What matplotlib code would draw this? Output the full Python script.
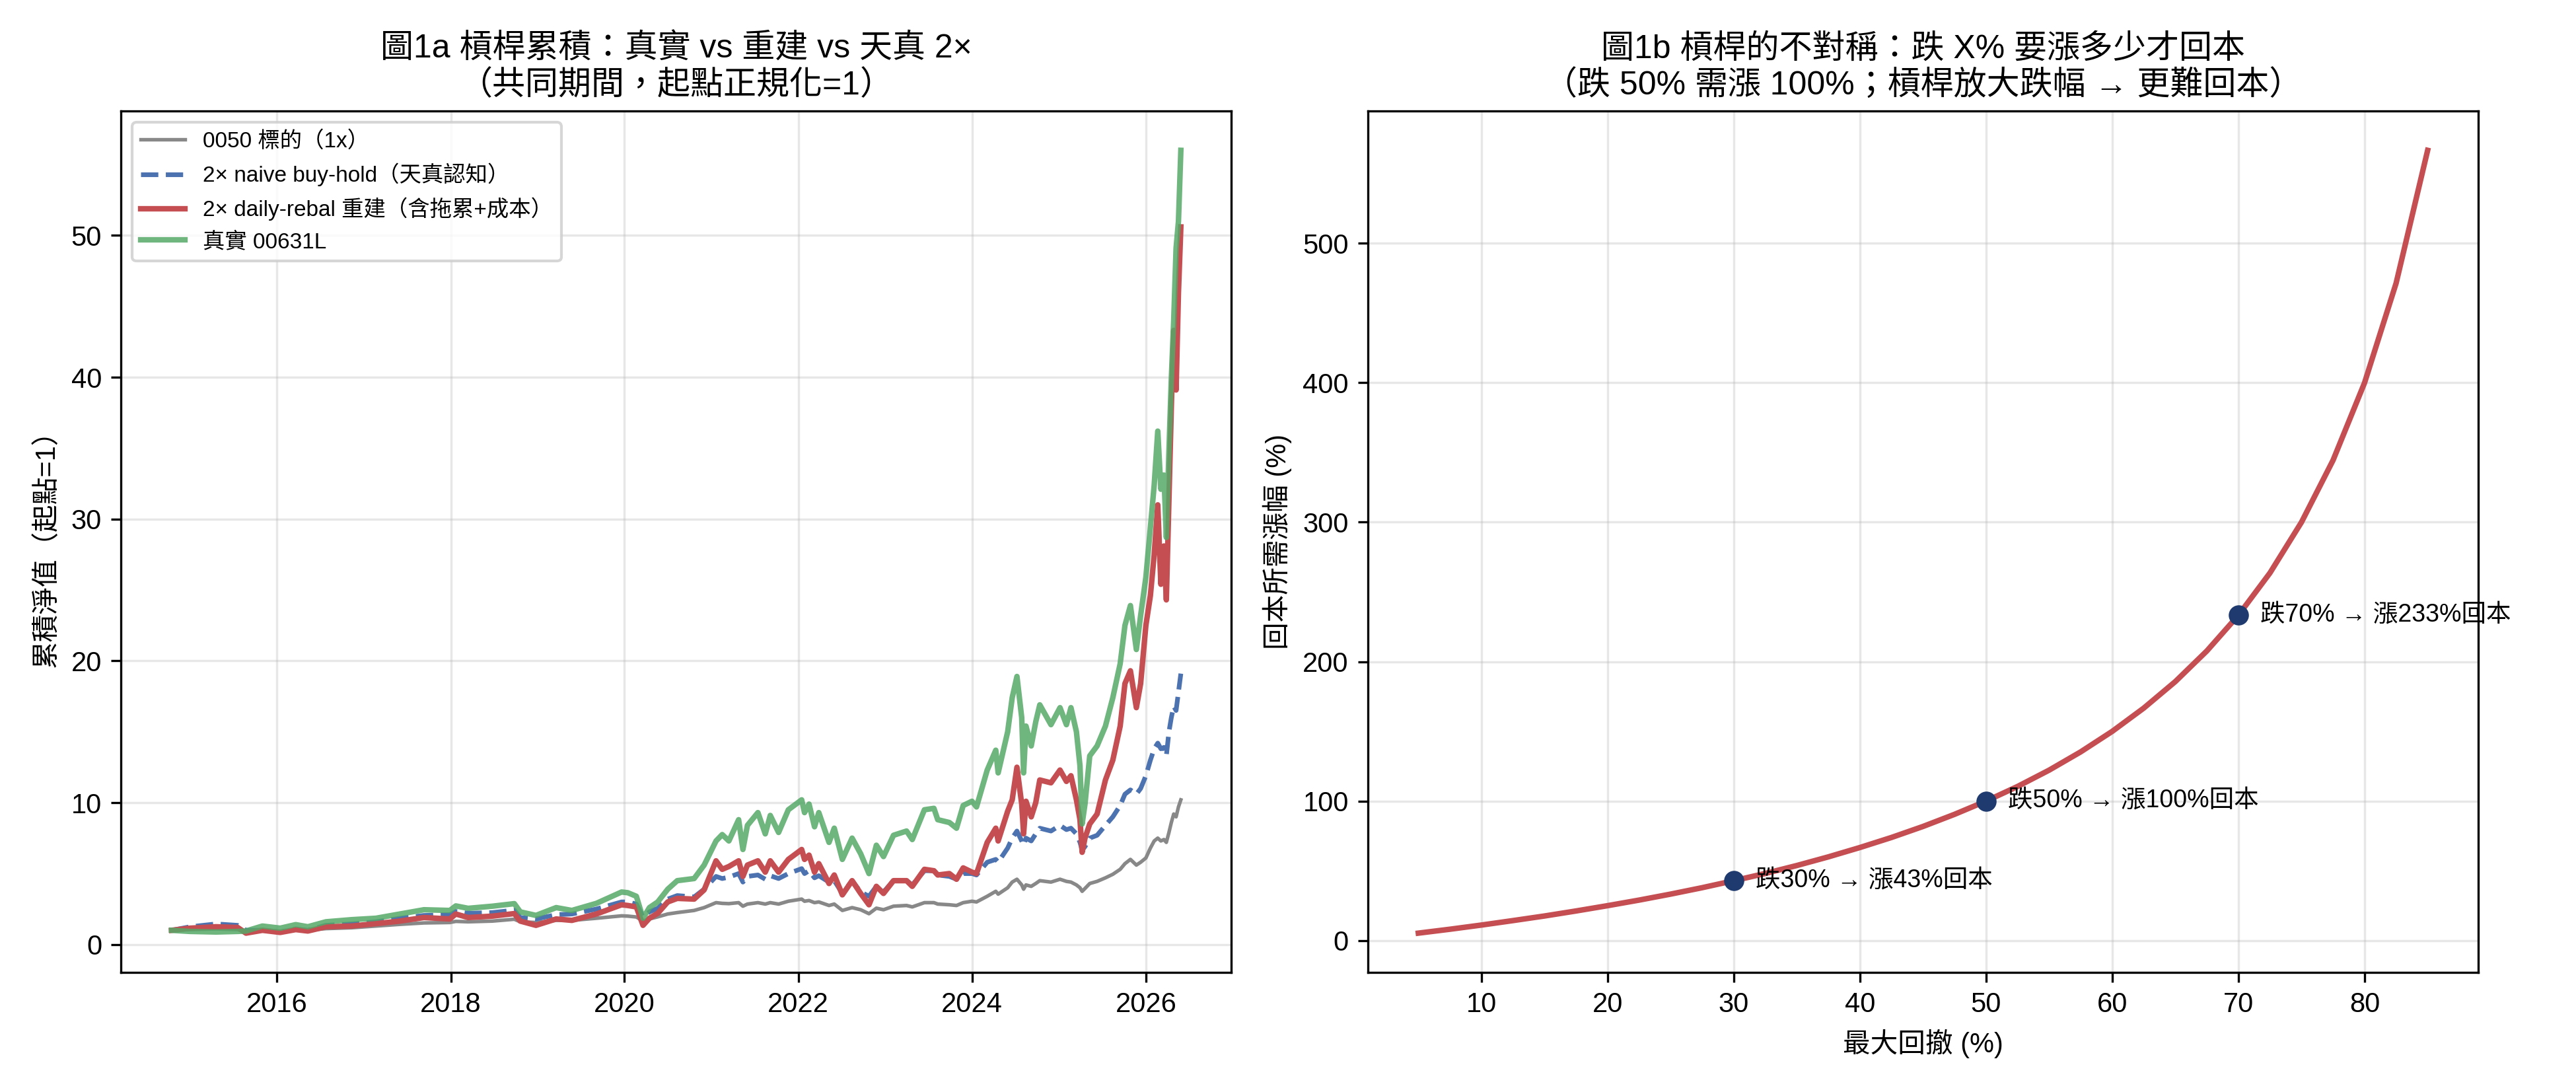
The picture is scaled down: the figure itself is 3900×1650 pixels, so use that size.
import numpy as np
import pandas as pd
from matplotlib import pyplot as plt

plt.rcParams['font.family'] = ['Liberation Sans', 'Noto Sans CJK TC', 'DejaVu Sans']

# ---- Fig 1a: cumulative NAV ----
dates = [
    "2014-10-15", "2015-01-01", "2015-04-20", "2015-07-20", "2015-08-24", "2015-11-01",
    "2016-01-15", "2016-03-20", "2016-05-10", "2016-07-25", "2016-11-10", "2017-02-20",
    "2017-06-01", "2017-09-10", "2017-12-28", "2018-01-22", "2018-03-15", "2018-06-25",
    "2018-09-25", "2018-10-20", "2018-12-25", "2019-03-20", "2019-05-25", "2019-09-05",
    "2019-12-20", "2020-01-15", "2020-02-20", "2020-03-19", "2020-04-15", "2020-05-20",
    "2020-07-01", "2020-08-10", "2020-10-20", "2020-12-01", "2021-01-20", "2021-02-15",
    "2021-03-15", "2021-04-25", "2021-05-13", "2021-06-01", "2021-07-15", "2021-08-15",
    "2021-09-05", "2021-10-10", "2021-11-20", "2022-01-15", "2022-01-27", "2022-02-15",
    "2022-03-10", "2022-03-28", "2022-05-10", "2022-06-01", "2022-07-05", "2022-08-15",
    "2022-09-20", "2022-10-25", "2022-11-25", "2022-12-25", "2023-02-05", "2023-04-01",
    "2023-04-25", "2023-06-15", "2023-07-25", "2023-08-10", "2023-09-28", "2023-10-28",
    "2023-11-25", "2024-01-01", "2024-01-20", "2024-03-05", "2024-04-10", "2024-04-20",
    "2024-05-30", "2024-06-18", "2024-07-08", "2024-07-28", "2024-08-05", "2024-08-15",
    "2024-09-06", "2024-09-25", "2024-10-12", "2024-11-28", "2025-01-05", "2025-02-01",
    "2025-02-20", "2025-03-15", "2025-03-30", "2025-04-08", "2025-04-20", "2025-05-10",
    "2025-06-10", "2025-07-15", "2025-08-15", "2025-09-15", "2025-10-05", "2025-10-28",
    "2025-11-22", "2025-12-10", "2026-01-01", "2026-01-20", "2026-02-05", "2026-02-20",
    "2026-03-05", "2026-03-18", "2026-03-28", "2026-04-08", "2026-04-18", "2026-04-28",
    "2026-05-08", "2026-05-18", "2026-05-28",
]

nav_0050 = [
    1.0, 1.05, 1.1, 1.05, 0.9, 0.98,
    0.93, 1.02, 1.0, 1.12, 1.18, 1.3,
    1.42, 1.52, 1.55, 1.63, 1.6, 1.65,
    1.78, 1.6, 1.55, 1.7, 1.7, 1.85,
    2.02, 2.0, 1.94, 1.65, 1.8, 1.95,
    2.15, 2.25, 2.4, 2.6, 2.95, 2.9,
    2.88, 2.95, 2.7, 2.85, 2.95, 2.85,
    2.95, 2.85, 3.05, 3.2, 3.05, 3.1,
    2.95, 3.0, 2.75, 2.85, 2.4, 2.6,
    2.45, 2.17, 2.56, 2.45, 2.7, 2.75,
    2.65, 2.95, 2.95, 2.85, 2.8, 2.75,
    2.95, 3.05, 3.0, 3.4, 3.75, 3.55,
    4.0, 4.4, 4.6, 4.2, 3.9, 4.2,
    4.1, 4.3, 4.5, 4.4, 4.6, 4.45,
    4.4, 4.2, 4.0, 3.75, 3.95, 4.3,
    4.45, 4.7, 4.95, 5.3, 5.7, 6.0,
    5.6, 5.8, 6.1, 6.8, 7.3, 7.5,
    7.3, 7.4, 7.2, 7.9, 8.6, 9.2,
    9.0, 9.7, 10.2,
]

nav_naive = [
    1.0, 1.25, 1.45, 1.35, 1.0, 1.0,
    0.88, 1.1, 1.0, 1.35, 1.45, 1.6,
    1.85, 2.05, 2.1, 2.33, 2.2, 2.25,
    2.42, 1.9, 1.8, 2.1, 2.15, 2.5,
    3.0, 3.0, 2.85, 1.95, 2.3, 2.55,
    3.2, 3.45, 3.35, 3.9, 4.8, 4.65,
    4.75, 5.0, 4.4, 4.8, 4.9, 4.6,
    4.85, 4.65, 5.0, 5.35, 5.0, 5.2,
    4.7, 4.85, 4.4, 4.5, 3.6, 4.5,
    3.7, 3.4, 4.1, 3.7, 4.5, 4.5,
    4.2, 5.2, 5.2, 4.9, 4.8, 4.6,
    5.0, 5.0, 4.9, 5.8, 6.0, 5.8,
    6.8, 7.5, 8.0, 7.3, 7.0, 7.5,
    7.3, 7.8, 8.2, 8.0, 8.4, 8.1,
    8.2, 7.8, 7.2, 6.65, 6.9, 7.5,
    7.7, 8.4, 9.0, 9.8, 10.6, 10.9,
    10.6, 11.0, 11.9, 13.0, 13.8, 14.2,
    13.8, 13.9, 13.3, 15.0, 16.0, 16.8,
    16.5, 17.8, 19.1,
]

nav_rebal = [
    1.0, 1.15, 1.25, 1.2, 0.8, 1.0,
    0.85, 1.05, 0.95, 1.25, 1.3, 1.47,
    1.65, 1.9, 1.8, 2.15, 1.9, 2.0,
    2.18, 1.65, 1.35, 1.8, 1.7, 2.15,
    2.8, 2.75, 2.65, 1.35, 1.85, 2.2,
    3.0, 3.25, 3.2, 3.85, 5.9, 5.3,
    5.5, 5.9, 4.8, 5.6, 5.9, 5.1,
    5.9, 5.1, 6.0, 6.7, 6.0, 6.3,
    5.1, 5.7, 4.3, 4.9, 3.5, 4.5,
    3.6, 2.8, 4.1, 3.6, 4.5, 4.5,
    4.1, 5.3, 5.2, 4.9, 5.0, 4.6,
    5.4, 5.1, 5.0, 7.2, 8.2, 7.3,
    9.4, 10.2, 12.5, 9.9, 7.8, 10.1,
    9.0, 10.0, 11.6, 11.4, 12.3, 11.5,
    11.9, 10.2, 8.8, 6.5, 7.5, 8.5,
    9.2, 11.6, 13.0, 15.4, 18.4, 19.3,
    16.7, 18.4, 22.5, 24.6, 27.5, 31.0,
    25.4, 28.1, 24.3, 31.4, 37.9, 43.3,
    39.1, 46.0, 50.6,
]

nav_00631l = [
    1.0, 0.92, 0.88, 0.92, 0.95, 1.3,
    1.15, 1.4, 1.25, 1.6, 1.75, 1.85,
    2.15, 2.45, 2.4, 2.72, 2.55, 2.7,
    2.88, 2.3, 2.05, 2.6, 2.4, 2.9,
    3.7, 3.65, 3.4, 1.85, 2.6, 3.0,
    3.9, 4.5, 4.65, 5.6, 7.3, 7.75,
    7.3, 8.8, 6.7, 8.4, 9.3, 7.8,
    9.1, 7.9, 9.5, 10.2, 9.3, 9.9,
    8.3, 9.3, 7.2, 8.2, 6.0, 7.5,
    6.4, 5.0, 7.0, 6.2, 7.7, 8.0,
    7.4, 9.5, 9.6, 8.8, 8.6, 8.2,
    9.8, 10.1, 9.7, 12.3, 13.7, 12.1,
    15.0, 17.4, 18.9, 16.0, 12.1, 15.4,
    14.0, 15.7, 16.9, 15.5, 16.7, 15.5,
    16.7, 15.0, 12.6, 8.5, 9.9, 13.3,
    14.0, 15.4, 17.4, 19.8, 22.5, 23.9,
    20.8, 23.2, 25.9, 29.4, 32.4, 36.2,
    32.1, 33.1, 28.7, 34.8, 39.9, 44.0,
    49.1, 51.0, 56.0,
]

# ---- Fig 1b: drawdown vs gain needed to recover ----
drawdown_pct = [5, 7.5, 10, 12.5, 15, 17.5, 20, 22.5, 25, 27.5, 30, 32.5, 35, 37.5, 40,
                42.5, 45, 47.5, 50, 52.5, 55, 57.5, 60, 62.5, 65, 67.5, 70, 72.5, 75,
                77.5, 80, 82.5, 85]
recover_pct = [5.3, 8.1, 11.1, 14.3, 17.6, 21.2, 25.0, 29.0, 33.3, 37.9, 42.9, 48.1, 53.8,
               60.0, 66.7, 73.9, 81.8, 90.5, 100.0, 110.5, 122.2, 135.3, 150.0, 166.7,
               185.7, 207.7, 233.3, 263.6, 300.0, 344.4, 400.0, 471.4, 566.7]
mark_dd = [30, 50, 70]
mark_up = [42.9, 100.0, 233.3]

t = pd.to_datetime(dates)

fig, (ax1, ax2) = plt.subplots(1, 2, figsize=(13, 5.5), dpi=300)
fig.subplots_adjust(left=0.047, right=0.962, bottom=0.108, top=0.898, wspace=0.123)

ax1.plot(t, nav_0050, color='#888888', linewidth=1.3, label='0050 標的（1x）')
ax1.plot(t, nav_naive, color='#4C72B0', linewidth=1.7, linestyle='--', label='2× naive buy-hold（天真認知）')
ax1.plot(t, nav_rebal, color='#C44E52', linewidth=2.0, label='2× daily-rebal 重建（含拖累+成本）')
ax1.plot(t, nav_00631l, color='#55A868', linewidth=2.0, alpha=0.85, label='真實 00631L')
ax1.set_title('圖1a 槓桿累積：真實 vs 重建 vs 天真 2×\n（共同期間，起點正規化=1）', fontsize=12)
ax1.set_ylabel('累積淨值（起點=1）', fontsize=10)
ax1.legend(loc='upper left', fontsize=8)
ax1.grid(True, alpha=0.3)

ax2.plot(drawdown_pct, recover_pct, color='#C44E52', linewidth=2)
ax2.scatter(mark_dd, mark_up, color='#1F3A6E', s=40, zorder=5)
for dd, up in zip(mark_dd, mark_up):
    ax2.annotate(f'跌{dd}% → 漲{up:.0f}%回本', (dd, up), xytext=(8, 0),
                 textcoords='offset points', va='center', fontsize=9)
ax2.set_title('圖1b 槓桿的不對稱：跌 X% 要漲多少才回本\n（跌 50% 需漲 100%；槓桿放大跌幅 → 更難回本）', fontsize=12)
ax2.set_xlabel('最大回撤 (%)', fontsize=10)
ax2.set_ylabel('回本所需漲幅 (%)', fontsize=10)
ax2.grid(True, alpha=0.3)

plt.savefig('out.png', dpi=300)
print("saved out.png")
